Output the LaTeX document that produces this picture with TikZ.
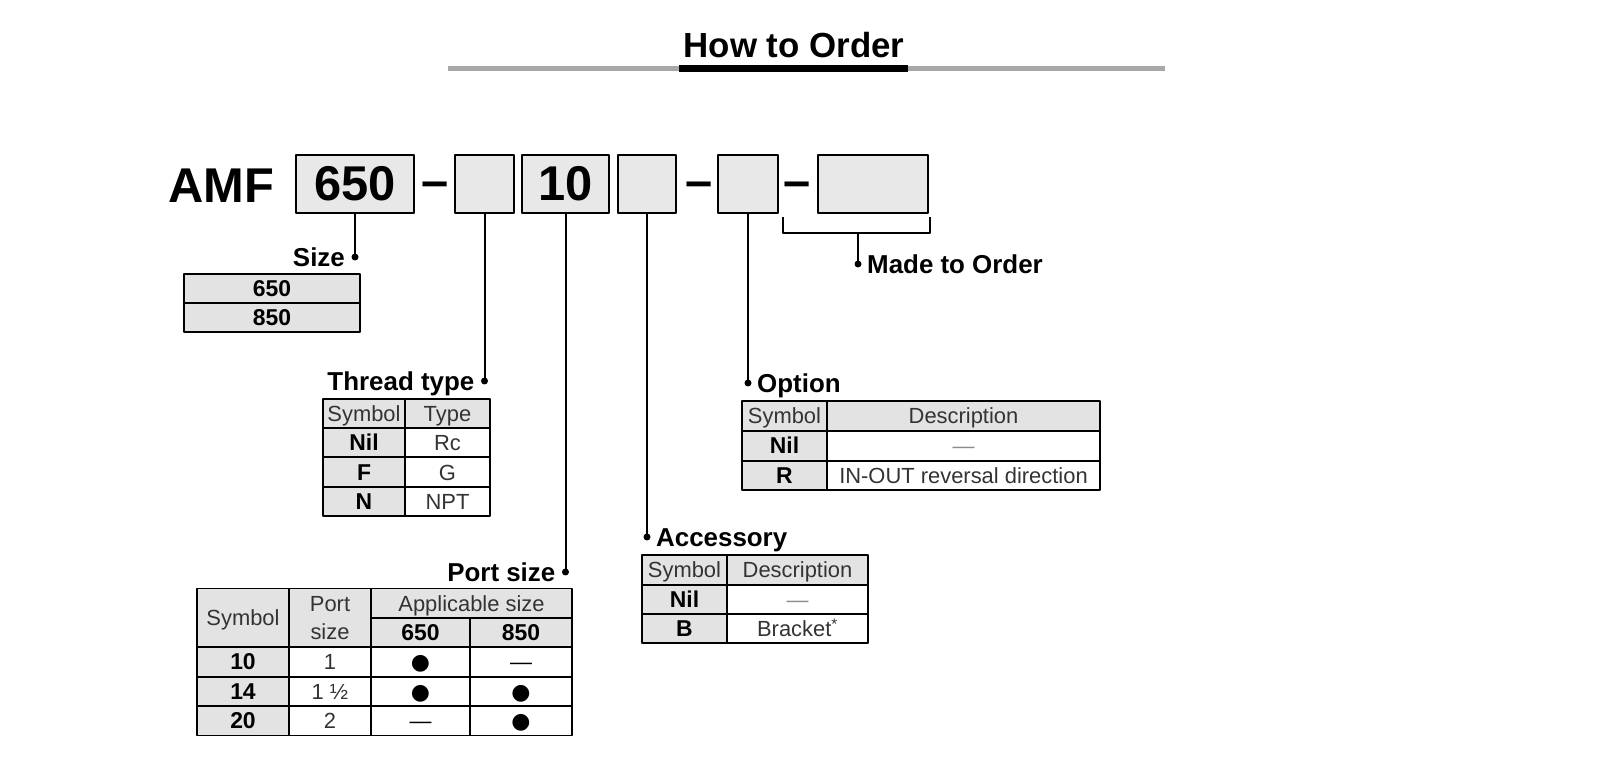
\documentclass[tikz,border=0pt]{standalone}
\usepackage{fontspec}
\setmainfont{Liberation Sans}
\newfontfamily\symfont{DejaVu Sans}
\usepackage{tikz}
\usetikzlibrary{arrows,positioning}
\definecolor{boxgray}{HTML}{E8E8E8}
\definecolor{cellgray}{HTML}{E3E3E3}
\definecolor{rulegray}{HTML}{A8A8A8}

\begin{document}
\begin{tikzpicture}[>=latex,line join=bevel,
  topbox/.style={draw,line width=2.4bp,fill=boxgray,minimum height=58bp,
    inner sep=0pt,font=\fontsize{49}{49}\selectfont\bfseries},
  big/.style={inner sep=0pt,anchor=base,font=\fontsize{49}{49}\selectfont\bfseries},
  lbl/.style={inner sep=0pt,text height=19bp,text depth=0bp,
    font=\fontsize{26}{26}\selectfont\bfseries},
  cellbase/.style={draw,line width=1.8bp,inner sep=0pt,minimum height=29.4bp,
    text=black!80,font=\fontsize{22}{22}\selectfont},
  cell/.style={cellbase,text height=16bp,text depth=0bp},
  hcell/.style={cell,fill=cellgray},
  scell/.style={hcell,text=black,font=\fontsize{23}{23}\selectfont\bfseries},
  lead/.style={line width=2bp}]
  \useasboundingbox (0bp,0bp) rectangle (1600bp,758bp);
  \node (title) at (794bp,700bp) [anchor=base,inner sep=0pt,
  font=\fontsize{35}{35}\selectfont\bfseries] {How to Order};
  \coordinate (rulel) at (448bp,689bp); \coordinate (ruler) at
  (1165bp,689bp); \coordinate (barl) at (679bp,689bp);
  \coordinate (barr) at (908bp,689bp);
  \draw [rulegray,line width=5bp] (rulel) -- (ruler);
  \draw [line width=7bp] (barl) -- (barr);
  \node (amf) at (221.5bp,555bp) [big] {AMF}; \node (b650) at
  (355bp,574bp) [topbox,minimum width=118bp] {650}; \node (dash1)
  at (435bp,560bp) [big] {–}; \node (bthr) at (484.5bp,574bp)
  [topbox,minimum width=59bp] {}; \node (bport) at (565.5bp,574bp)
  [topbox,minimum width=87bp] {10}; \node (bacc) at (647bp,574bp)
  [topbox,minimum width=58bp] {}; \node (dash2) at (699bp,560bp)
  [big] {–}; \node (bopt) at (748bp,574bp) [topbox,minimum
  width=60bp] {}; \node (dash3) at (797.5bp,560bp) [big] {–};
  \node (bmto) at (873bp,574bp) [topbox,minimum width=110bp] {};
  \coordinate (dsize) at (355bp,501bp); \coordinate (dthr) at
  (484.5bp,377bp); \coordinate (dport) at (565.5bp,186bp);
  \coordinate (dacc) at (647bp,221bp); \coordinate (dopt) at
  (748bp,375bp); \coordinate (mtol) at (783bp,541bp); \coordinate
  (mtor) at (930bp,541bp); \coordinate (mtom) at (858bp,525bp);
  \coordinate (dmto) at (858bp,494bp);
  \draw [lead] (b650.south) -- (dsize); \draw [lead] (bthr.south)
  -- (dthr); \draw [lead] (bport.south) -- (dport); \draw [lead]
  (bacc.south) -- (dacc); \draw [lead] (bopt.south) -- (dopt);
  \draw [lead] (mtol) |- (mtom) -| (mtor); \draw [lead] (mtom) --
  (dmto);
  \fill (dsize) circle (3.5bp); \fill (dthr) circle (3.5bp); \fill
  (dport) circle (3.5bp); \fill (dacc) circle (3.5bp); \fill (dopt)
  circle (3.5bp); \fill (dmto) circle (3.5bp);
  \node (lsize) [lbl,left=10bp of dsize] {Size}; \node (lthr)
  [lbl,left=10bp of dthr] {Thread type}; \node (lport)
  [lbl,left=10bp of dport] {Port size}; \node (lacc) [lbl,right=9bp
  of dacc] {Accessory}; \node (lopt) [lbl,right=9bp of dopt]
  {Option}; \node (lmto) [lbl,right=9bp of dmto] {Made to Order};
  \node (s650) at (272bp,469.5bp) [scell,minimum width=176bp] {650};
  \node (s850) at (272bp,440.5bp) [scell,minimum width=176bp] {850};
  \node (thsym) at (364bp,344.4bp) [hcell,minimum width=82bp]
  {Symbol}; \node (thtyp) at (447.5bp,344.4bp) [hcell,minimum
  width=85bp] {Type}; \node (tnil) at (364bp,315.1bp) [scell,minimum
  width=82bp] {Nil}; \node (trc) at (447.5bp,315.1bp) [cell,minimum
  width=85bp] {Rc}; \node (tf) at (364bp,285.9bp) [scell,minimum
  width=82bp] {F}; \node (tg) at (447.5bp,285.9bp) [cell,minimum
  width=85bp] {G}; \node (tn) at (364bp,256.6bp) [scell,minimum
  width=82bp] {N}; \node (tnpt) at (447.5bp,256.6bp) [cell,minimum
  width=85bp] {NPT};
  \node (ohsym) at (784.5bp,342bp) [hcell,minimum width=85bp]
  {Symbol}; \node (ohdes) at (963.5bp,342bp) [hcell,minimum
  width=273bp] {Description}; \node (onil) at (784.5bp,312bp)
  [scell,minimum width=85bp] {Nil}; \node (onone) at (963.5bp,312bp)
  [cell,minimum width=273bp,text=black!45] {—}; \node (or) at
  (784.5bp,282.5bp) [scell,minimum width=85bp] {R}; \node (orev) at
  (963.5bp,282.5bp) [cell,minimum width=273bp] {IN-OUT reversal
  direction};
  \node (ahsym) at (684.5bp,188bp) [hcell,minimum width=85bp]
  {Symbol}; \node (ahdes) at (797.5bp,188bp) [hcell,minimum
  width=141bp] {Description}; \node (anil) at (684.5bp,158.5bp)
  [scell,minimum width=85bp] {Nil}; \node (anone) at
  (797.5bp,158.5bp) [cell,minimum width=141bp,text=black!45] {—};
  \node (ab) at (684.5bp,129.5bp) [scell,minimum width=85bp] {B};
  \node (abr) at (797.5bp,129.5bp) [cell,minimum width=141bp]
  {Bracket\textsuperscript{*}};
  \node (phsym) at (243bp,140bp) [hcell,minimum width=92bp,minimum
  height=58.8bp] {Symbol}; \node (phport) at (330bp,140bp)
  [cellbase,fill=cellgray,align=center,minimum width=82bp,minimum
  height=58.8bp,font=\fontsize{22}{28}\selectfont] {Port\\size};
  \node (phapp) at (471.5bp,154.7bp) [hcell,minimum width=201bp]
  {Applicable size}; \node (ph650) at (420.5bp,125.3bp)
  [scell,minimum width=99bp] {650}; \node (ph850) at
  (521bp,125.3bp) [scell,minimum width=102bp] {850};
  \node (p10) at (243bp,96bp) [scell,minimum width=92bp] {10};
  \node (p10s) at (330bp,96bp) [cell,minimum width=82bp] {1}; \node
  (p10a) at (420.5bp,96bp) [cell,minimum width=99bp,text=black]
  {\symfont ●}; \node (p10b) at (521bp,96bp) [cell,minimum
  width=102bp,text=black] {—};
  \node (p14) at (243bp,66.6bp) [scell,minimum width=92bp] {14};
  \node (p14s) at (330bp,66.6bp) [cell,minimum width=82bp] {1 ½};
  \node (p14a) at (420.5bp,66.6bp) [cell,minimum
  width=99bp,text=black] {\symfont ●}; \node (p14b) at
  (521bp,66.6bp) [cell,minimum width=102bp,text=black] {\symfont ●};
  \node (p20) at (243bp,37.2bp) [scell,minimum width=92bp] {20};
  \node (p20s) at (330bp,37.2bp) [cell,minimum width=82bp] {2};
  \node (p20a) at (420.5bp,37.2bp) [cell,minimum
  width=99bp,text=black] {—}; \node (p20b) at (521bp,37.2bp)
  [cell,minimum width=102bp,text=black] {\symfont ●};
\end{tikzpicture}
\end{document}
